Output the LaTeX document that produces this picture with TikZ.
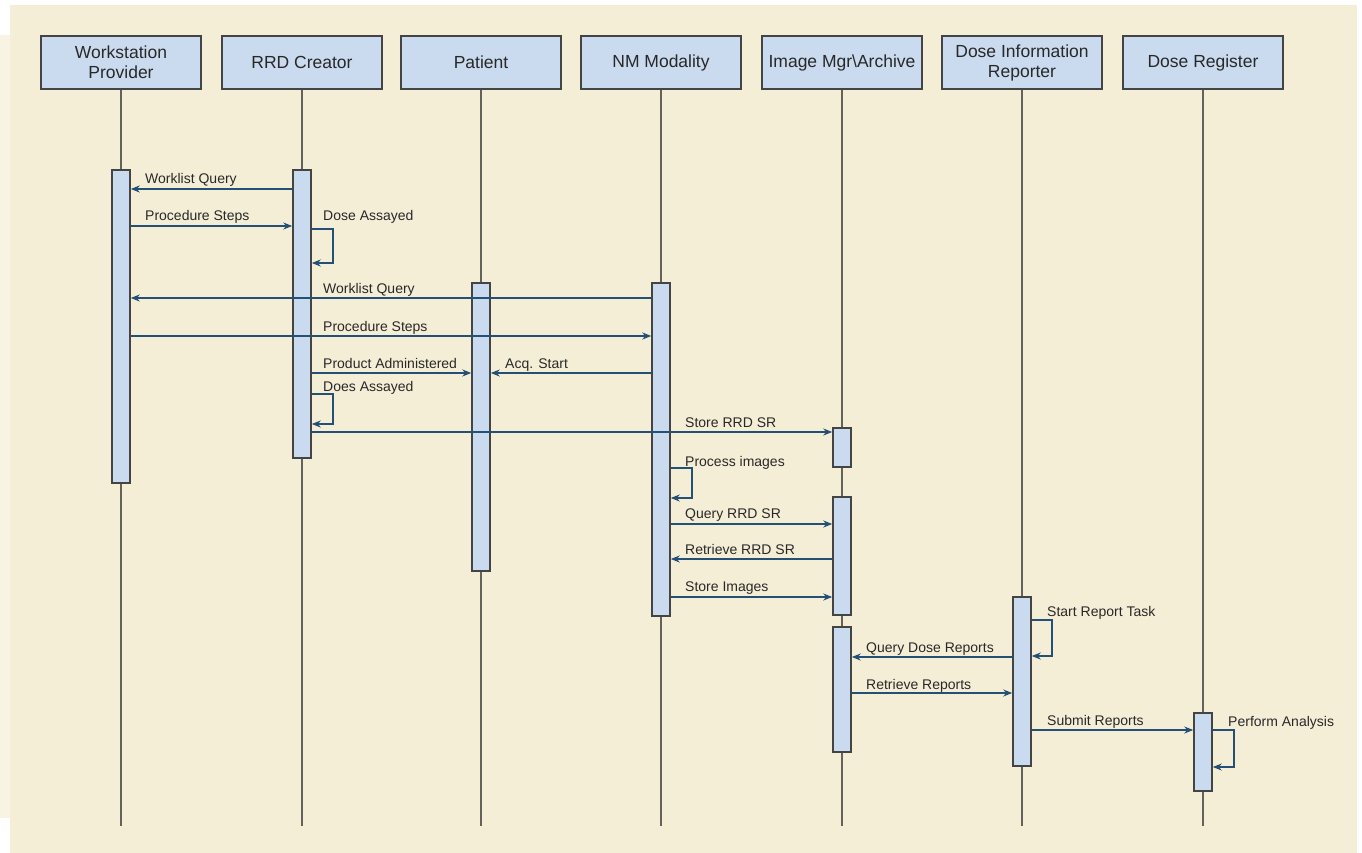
\documentclass[tikz,border=0pt]{standalone}
\usepackage{fontspec}
\setmainfont{Liberation Sans}
\usetikzlibrary{arrows.meta}
\definecolor{paper}{RGB}{245,238,215}
\definecolor{paperlight}{RGB}{248,243,227}
\definecolor{boxfill}{RGB}{202,219,239}
\definecolor{msgblue}{RGB}{36,80,118}
\definecolor{edgegray}{RGB}{68,68,68}
\definecolor{lifegray}{RGB}{100,98,90}
\definecolor{inkgray}{RGB}{40,40,40}

\begin{document}
\begin{tikzpicture}[x=1pt,y=-1pt,
  actor/.style={draw=edgegray, line width=1.8pt, fill=boxfill, minimum width=160pt,
    minimum height=53pt, inner sep=0, align=center,
    font=\fontsize{17.5}{20}\selectfont, text=inkgray},
  bar/.style={draw=edgegray, line width=1.5pt, fill=boxfill, minimum width=18pt, inner sep=0},
  life/.style={draw=lifegray, line width=1.3pt},
  msg/.style={draw=msgblue, line width=1.5pt, -{Stealth[length=9pt,width=7pt]}},
  lbl/.style={anchor=base west, inner sep=0, font=\fontsize{14}{16}\selectfont, text=inkgray}
]
% canvas and paper
\useasboundingbox (0,0) rectangle (1362,853);
\fill[paperlight] (0,35) rectangle (10,818);
\fill[paper] (10,5) rectangle (1357,853);

% participants
\node[actor] (wp)  at (121,62.5)  {Workstation\\Provider};
\node[actor] (rrd) at (302,62.5)  {RRD Creator};
\node[actor] (pat) at (481,62.5)  {Patient};
\node[actor] (nm)  at (661,62.5)  {NM Modality};
\node[actor] (im)  at (842,62.5)  {Image Mgr\textbackslash Archive};
\node[actor] (dir) at (1022,62.5) {Dose Information\\Reporter};
\node[actor] (dr)  at (1203,62.5) {Dose Register};

% lifelines
\coordinate (wpEnd)  at (121,826);
\coordinate (rrdEnd) at (302,826);
\coordinate (patEnd) at (481,826);
\coordinate (nmEnd)  at (661,826);
\coordinate (imEnd)  at (842,826);
\coordinate (dirEnd) at (1022,826);
\coordinate (drEnd)  at (1203,826);
\draw[life] (wp.south)  -- (wpEnd);
\draw[life] (rrd.south) -- (rrdEnd);
\draw[life] (pat.south) -- (patEnd);
\draw[life] (nm.south)  -- (nmEnd);
\draw[life] (im.south)  -- (imEnd);
\draw[life] (dir.south) -- (dirEnd);
\draw[life] (dr.south)  -- (drEnd);

% activation bars
\node[bar, minimum height=313pt] (wpA)  at (121,326.5) {};
\node[bar, minimum height=288pt] (rrdA) at (302,314) {};
\node[bar, minimum height=288pt] (patA) at (481,427) {};
\node[bar, minimum height=333pt] (nmA)  at (661,449.5) {};
\node[bar, minimum height=39pt]  (imA)  at (842,447.5) {};
\node[bar, minimum height=118pt] (imB)  at (842,556) {};
\node[bar, minimum height=125pt] (imC)  at (842,689.5) {};
\node[bar, minimum height=169pt] (dirA) at (1022,681.5) {};
\node[bar, minimum height=78pt]  (drA)  at (1203,752) {};

% messages
\draw[msg] (rrdA.west |- 0,189) -- (wpA.east |- 0,189);
\node[lbl] (m1) at (145,184) {Worklist Query};

\draw[msg] (wpA.east |- 0,226) -- (rrdA.west |- 0,226);
\node[lbl] (m2) at (145,221) {Procedure Steps};

\draw[msg] (rrdA.east |- 0,229) -| ++(21,34) -- (rrdA.east |- 0,263);
\node[lbl] (m3) at (323,220) {Dose Assayed};

\draw[msg] (nmA.west |- 0,298) -- (wpA.east |- 0,298);
\node[lbl] (m4) at (323,293) {Worklist Query};

\draw[msg] (wpA.east |- 0,336) -- (nmA.west |- 0,336);
\node[lbl] (m5) at (323,331) {Procedure Steps};

\draw[msg] (rrdA.east |- 0,373) -- (patA.west |- 0,373);
\node[lbl] (m6) at (323,368) {Product Administered};

\draw[msg] (nmA.west |- 0,373) -- (patA.east |- 0,373);
\node[lbl] (m7) at (505,368) {Acq. Start};

\draw[msg] (rrdA.east |- 0,394) -| ++(21,30) -- (rrdA.east |- 0,424);
\node[lbl] (m8) at (323,391) {Does Assayed};

\draw[msg] (rrdA.east |- 0,432) -- (imA.west |- 0,432);
\node[lbl] (m9) at (685,427) {Store RRD SR};

\draw[msg] (nmA.east |- 0,468) -| ++(21,30) -- (nmA.east |- 0,498);
\node[lbl] (m10) at (685,466) {Process images};

\draw[msg] (nmA.east |- 0,524) -- (imB.west |- 0,524);
\node[lbl] (m11) at (685,518) {Query RRD SR};

\draw[msg] (imB.west |- 0,559) -- (nmA.east |- 0,559);
\node[lbl] (m12) at (685,554) {Retrieve RRD SR};

\draw[msg] (nmA.east |- 0,597) -- (imB.west |- 0,597);
\node[lbl] (m13) at (685,591) {Store Images};

\draw[msg] (dirA.east |- 0,620) -| ++(20,36) -- (dirA.east |- 0,656);
\node[lbl] (m14) at (1047,616) {Start Report Task};

\draw[msg] (dirA.west |- 0,657) -- (imC.east |- 0,657);
\node[lbl] (m15) at (866,652) {Query Dose Reports};

\draw[msg] (imC.east |- 0,693) -- (dirA.west |- 0,693);
\node[lbl] (m16) at (866,689) {Retrieve Reports};

\draw[msg] (dirA.east |- 0,730) -- (drA.west |- 0,730);
\node[lbl] (m17) at (1047,725) {Submit Reports};

\draw[msg] (drA.east |- 0,730) -| ++(21,37) -- (drA.east |- 0,767);
\node[lbl] (m18) at (1228,726) {Perform Analysis};
\end{tikzpicture}
\end{document}
